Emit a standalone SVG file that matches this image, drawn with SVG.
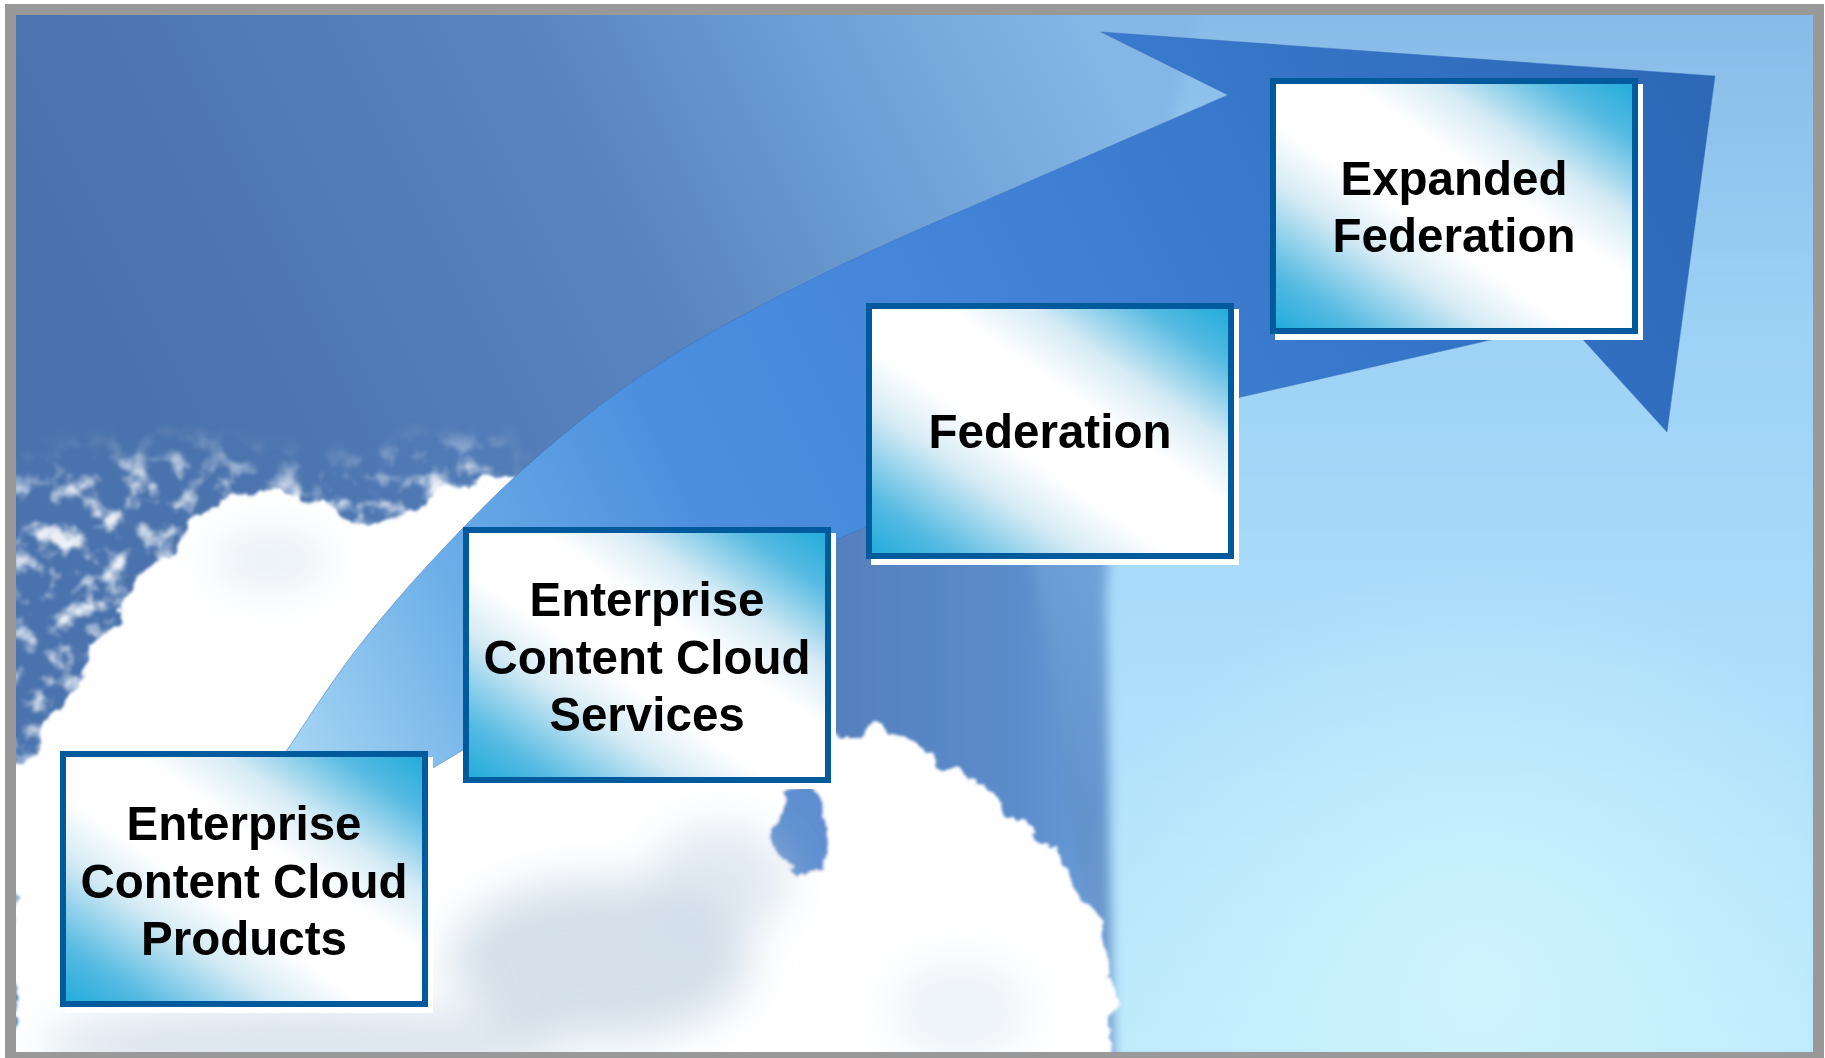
<svg xmlns="http://www.w3.org/2000/svg" width="1825" height="1058" viewBox="0 0 1825 1058">
<defs>
<style>
.shadow{fill:#FFFFFF}
.box{fill:url(#boxg);stroke:#005A9C;stroke-width:6}
.lbl{font-family:"Liberation Sans",Arial,Helvetica,sans-serif;font-weight:bold;font-size:47.5px;fill:#000000;text-anchor:middle}
</style>
<clipPath id="inner"><rect x="16" y="15" width="1797" height="1037"/></clipPath>
<linearGradient id="boxg" x1="0" y1="1" x2="1" y2="0">
<stop offset="0" stop-color="#1EABDB"/>
<stop offset="0.12" stop-color="#55BAE2"/>
<stop offset="0.3" stop-color="#D6EBF5"/>
<stop offset="0.42" stop-color="#FFFFFF"/>
<stop offset="0.6" stop-color="#FFFFFF"/>
<stop offset="0.72" stop-color="#D6EBF5"/>
<stop offset="0.88" stop-color="#55BAE2"/>
<stop offset="1" stop-color="#1EABDB"/>
</linearGradient>
<linearGradient id="skyA" gradientUnits="userSpaceOnUse" x1="200" y1="500" x2="1100" y2="50">
<stop offset="0" stop-color="#4A72AC"/>
<stop offset="0.5" stop-color="#5884BF"/>
<stop offset="0.8" stop-color="#72A4DA"/>
<stop offset="1" stop-color="#84B7E6"/>
</linearGradient>
<linearGradient id="ray" gradientUnits="userSpaceOnUse" x1="840" y1="0" x2="1110" y2="0">
<stop offset="0" stop-color="#5580BE"/>
<stop offset="0.7" stop-color="#5D8DCC"/>
<stop offset="1" stop-color="#6C9FDA"/>
</linearGradient>
<linearGradient id="skyB" gradientUnits="userSpaceOnUse" x1="0" y1="15" x2="0" y2="1052">
<stop offset="0" stop-color="#88BBE7"/>
<stop offset="0.3" stop-color="#9DD1F6"/>
<stop offset="0.6" stop-color="#ABDDFA"/>
<stop offset="1" stop-color="#BDEAFC"/>
</linearGradient>
<radialGradient id="glow" gradientUnits="userSpaceOnUse" cx="1480" cy="980" r="420">
<stop offset="0" stop-color="#D2F7FE" stop-opacity="0.85"/>
<stop offset="1" stop-color="#D2F7FE" stop-opacity="0"/>
</radialGradient>
<linearGradient id="arrowg" gradientUnits="userSpaceOnUse" x1="300" y1="760" x2="1700" y2="60">
<stop offset="0" stop-color="#A4D4F3"/>
<stop offset="0.14" stop-color="#6AADE7"/>
<stop offset="0.3" stop-color="#4C8FDE"/>
<stop offset="0.55" stop-color="#4282D6"/>
<stop offset="0.76" stop-color="#3574C6"/>
<stop offset="1" stop-color="#2D67B6"/>
</linearGradient>
<filter id="soft" x="-20%" y="-20%" width="140%" height="140%"><feGaussianBlur stdDeviation="6"/></filter>
<filter id="soft2" x="-50%" y="-50%" width="200%" height="200%"><feGaussianBlur stdDeviation="22"/></filter>
<filter id="fluff" x="-15%" y="-15%" width="130%" height="130%">
<feTurbulence type="fractalNoise" baseFrequency="0.03" numOctaves="4" seed="7" result="n"/>
<feDisplacementMap in="SourceGraphic" in2="n" scale="34" xChannelSelector="R" yChannelSelector="G"/>
<feGaussianBlur stdDeviation="1.6"/>
</filter>
<filter id="wisp" x="-5%" y="-5%" width="110%" height="110%">
<feGaussianBlur in="SourceGraphic" stdDeviation="18" result="shape"/>
<feTurbulence type="fractalNoise" baseFrequency="0.04" numOctaves="4" seed="11" result="n"/>
<feColorMatrix in="n" type="matrix" values="0 0 0 0 1  0 0 0 0 1  0 0 0 0 1  3.6 0 0 0 -1.75" result="m"/>
<feComposite in="m" in2="shape" operator="in" result="c"/>
<feGaussianBlur in="c" stdDeviation="1.8"/>
</filter>
</defs>

<rect x="0" y="0" width="1825" height="1058" fill="#FFFFFF"/>

<g id="sky" clip-path="url(#inner)">
<rect x="16" y="15" width="1797" height="1037" fill="url(#skyA)"/>
<path d="M760,430 L1010,430 L1112,1060 L850,1060 Z" fill="url(#ray)" filter="url(#soft)"/>
<path d="M1114,1060 L1106,600 L1120,330 L1200,10 L1820,10 L1820,1060 Z" fill="url(#skyB)" filter="url(#soft)"/>
<rect x="1000" y="500" width="813" height="552" fill="url(#glow)"/>
<path id="wisps" d="M0,480 L90,465 L180,450 L260,472 L340,478 L420,455 L500,452 L520,520 L300,560 L160,620 L80,760 L40,1000 L0,1000 Z" fill="#FFFFFF" opacity="0.9" filter="url(#wisp)"/>
<g id="clouds" filter="url(#fluff)">
<path d="M10,770 L36,753 C70,690 100,640 116,620 C135,590 150,570 166,553 C180,530 190,515 203,507 C225,495 245,490 266,493 C290,496 305,500 316,503 C335,510 350,520 366,520 C385,518 400,505 416,503 C440,495 460,485 483,480 C520,470 560,480 600,520 L700,700 L830,735 C860,722 900,735 945,765 C985,785 1020,815 1050,850 C1080,880 1105,920 1112,970 L1110,1070 L10,1070 Z" fill="#FFFFFF"/>
<ellipse cx="800" cy="830" rx="28" ry="42" fill="#5E8FD0"/>
</g>
<g id="cloudshade" filter="url(#soft2)">
<ellipse cx="600" cy="960" rx="150" ry="80" fill="#B9CBDD" opacity="0.6"/>
<ellipse cx="300" cy="1045" rx="260" ry="40" fill="#C5D4E2" opacity="0.6"/>
<ellipse cx="720" cy="880" rx="70" ry="55" fill="#C3D4E5" opacity="0.5"/>
<ellipse cx="960" cy="1010" rx="70" ry="50" fill="#D5E2EE" opacity="0.4"/>
<ellipse cx="270" cy="560" rx="60" ry="30" fill="#D3E1EE" opacity="0.5"/>
</g>
</g>

<g id="connectors">
<path id="growth-arrow" d="M250,830 L260,790 L287,750 C303,726.7 330.2,683.3 356,650 C381.8,616.7 410.5,583.3 442,550 C473.5,516.7 507,482.2 545,450 C583,417.8 621.3,387.5 670,357 C718.7,326.5 777.3,296.2 837,267 C896.7,237.8 962.8,210.7 1028,182 C1093.2,153.3 1162,124 1228,95 L1101,32 L1715,76 L1667,432 L1567,322 L1490,340 L1241,397 Q1050,455 866,527 Q640,620 463,750 L433,768 L360,820 Z" fill="url(#arrowg)" stroke="#3A72C0" stroke-width="1" stroke-opacity="0.5"/>
</g>

<g id="node-products">
<rect class="shadow" x="65" y="757" width="368" height="256"/>
<rect class="box" x="63" y="754" width="362" height="250"/>
<text class="lbl" x="244" y="840">Enterprise</text>
<text class="lbl" x="244" y="897.5">Content Cloud</text>
<text class="lbl" x="244" y="955">Products</text>
</g>

<g id="node-services">
<rect class="shadow" x="468" y="533" width="368" height="256"/>
<rect class="box" x="466" y="530" width="362" height="250"/>
<text class="lbl" x="647" y="616">Enterprise</text>
<text class="lbl" x="647" y="673.5">Content Cloud</text>
<text class="lbl" x="647" y="731">Services</text>
</g>

<g id="node-federation">
<rect class="shadow" x="871" y="309" width="368" height="256"/>
<rect class="box" x="869" y="306" width="362" height="250"/>
<text class="lbl" x="1050" y="448">Federation</text>
</g>

<g id="node-expanded-federation">
<rect class="shadow" x="1275" y="84" width="368" height="256"/>
<rect class="box" x="1273" y="81" width="362" height="250"/>
<text class="lbl" x="1454" y="195">Expanded</text>
<text class="lbl" x="1454" y="252">Federation</text>
</g>

<rect id="frame" x="10.5" y="9.5" width="1808" height="1048" fill="none" stroke="#999999" stroke-width="11"/>
</svg>
